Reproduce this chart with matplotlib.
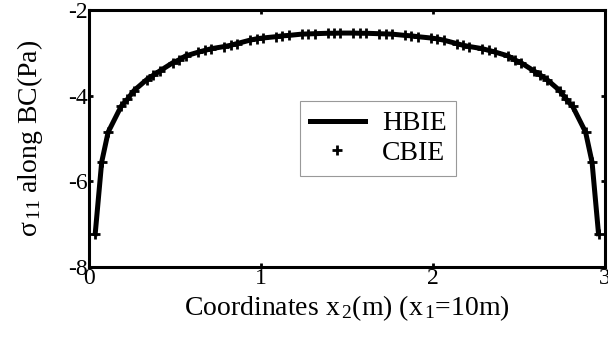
import matplotlib
matplotlib.use('Agg')
import matplotlib.pyplot as plt

plt.rcParams['font.family'] = ['Liberation Serif', 'DejaVu Serif']
plt.rcParams['mathtext.fontset'] = 'custom'
plt.rcParams['mathtext.rm'] = 'Liberation Serif'
plt.rcParams['mathtext.it'] = 'Liberation Serif:italic'
plt.rcParams['axes.unicode_minus'] = False

# 절점 위치 (x2, m)
x_pts = [0.0375, 0.075, 0.1125, 0.1875, 0.225, 0.2625, 0.3375, 0.375, 0.4125,
         0.4875, 0.525, 0.5625, 0.6375, 0.675, 0.7125, 0.7875, 0.825, 0.8625,
         0.9375, 0.975, 1.0125, 1.0875, 1.125, 1.1625, 1.2375, 1.275, 1.3125,
         1.3875, 1.425, 1.4625,
         1.5375, 1.575, 1.6125, 1.6875, 1.725, 1.7625, 1.8375, 1.875, 1.9125,
         1.9875, 2.025, 2.0625, 2.1375, 2.175, 2.2125, 2.2875, 2.325, 2.3625,
         2.4375, 2.475, 2.5125, 2.5875, 2.625, 2.6625, 2.7375, 2.775, 2.8125,
         2.8875, 2.925, 2.9625]

# sigma11 값 (Pa)
sigma_hbie = [-7.22, -5.55, -4.85, -4.25, -4.08, -3.88, -3.62, -3.52, -3.42,
              -3.23, -3.16, -3.07, -2.98, -2.94, -2.90, -2.85, -2.82, -2.78,
              -2.70, -2.67, -2.65, -2.62, -2.60, -2.59, -2.56, -2.555, -2.55,
              -2.54, -2.54, -2.535,
              -2.535, -2.54, -2.54, -2.55, -2.555, -2.56, -2.59, -2.60, -2.62,
              -2.65, -2.67, -2.70, -2.78, -2.82, -2.85, -2.90, -2.94, -2.98,
              -3.07, -3.16, -3.23, -3.42, -3.52, -3.62, -3.88, -4.08, -4.25,
              -4.85, -5.55, -7.22]
sigma_cbie = list(sigma_hbie)

x_ticks = [0, 1, 2, 3]
y_ticks = [-8, -6, -4, -2]

fig = plt.figure(figsize=(6.08, 3.5), dpi=100)
ax = fig.add_axes([0.146, 0.237, 0.849, 0.734])

ax.plot(x_pts, sigma_hbie, color='black', linewidth=3.6, label='HBIE')
ax.plot(x_pts, sigma_cbie, linestyle='none', marker='+', color='black',
        markersize=7, markeredgewidth=2, label='CBIE')

ax.set_xlim(0, 3)
ax.set_ylim(-8, -2)
ax.set_xticks(x_ticks)
ax.set_yticks(y_ticks)
ax.tick_params(direction='in', length=3, width=2, top=True, right=True,
               labelsize=17, pad=1)
for s in ax.spines.values():
    s.set_linewidth(2.2)

ax.set_xlabel('Coordinates x$_{\\,2}$(m) (x$_{\\,1}$=10m)', fontsize=20, labelpad=3)
ax.set_ylabel('σ$_{\\,11}$ along BC(Pa)', fontsize=20, labelpad=16)

leg = ax.legend(loc='upper left', bbox_to_anchor=(0.409, 0.646), fontsize=20,
                frameon=True, fancybox=False, edgecolor='gray',
                handlelength=2.0, handletextpad=0.6, borderpad=0.35,
                labelspacing=0.15, borderaxespad=0)
leg.get_frame().set_linewidth(0.8)

plt.savefig('out.png', dpi=100)
